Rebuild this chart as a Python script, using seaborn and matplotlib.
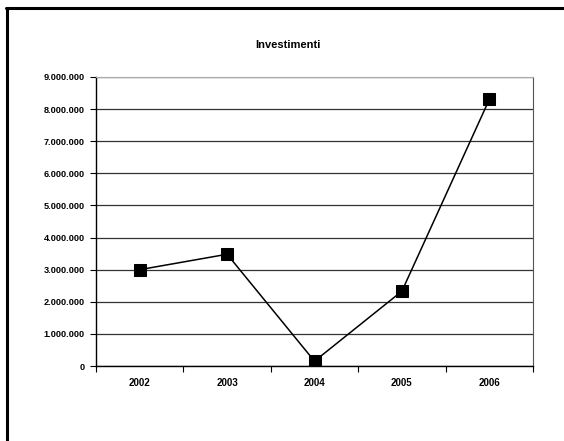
import pandas as pd
import matplotlib.pyplot as plt
import seaborn as sns
from matplotlib.ticker import FuncFormatter, MultipleLocator, FixedLocator
from matplotlib.lines import Line2D

anni = ['2002', '2003', '2004', '2005', '2006']
investimenti = [3000000, 3480000, 150000, 2330000, 8300000]

df = pd.DataFrame({'anno': anni, 'valore': investimenti})

sns.set_style('white', {'text.color': 'black', 'xtick.color': 'black',
                        'ytick.color': 'black'})
plt.rcParams['font.family'] = ['Liberation Sans', 'DejaVu Sans']

fig = plt.figure(figsize=(5.64, 4.41), dpi=100)
ax = fig.add_axes([96 / 564, 75 / 441, 437 / 564, 289 / 441])

# outer frame (top and left edge of the scanned page)
fig.add_artist(Line2D([6 / 564, 1], [433 / 441, 433 / 441], color='black', lw=2.2))
fig.add_artist(Line2D([7 / 564, 7 / 564], [0, 433 / 441], color='black', lw=2.2))

sns.lineplot(data=df, x='anno', y='valore', sort=False, color='black', lw=1.1,
             marker='s', markersize=8, markerfacecolor='black',
             markeredgecolor='black', ax=ax)

ax.set_xlim(-0.5, 4.5)
ax.set_ylim(0, 9000000)
ax.yaxis.set_major_locator(MultipleLocator(1000000))
ax.yaxis.set_major_formatter(FuncFormatter(lambda v, p: f'{int(v):,}'.replace(',', '.')))
ax.grid(axis='y', color='#333333', lw=0.9)
ax.set_axisbelow(True)

ax.xaxis.set_minor_locator(FixedLocator([i - 0.5 for i in range(len(anni) + 1)]))
ax.tick_params(axis='x', which='major', length=0, pad=9, labelcolor='black')
ax.tick_params(axis='x', which='minor', length=4, width=0.8, color='black', direction='out')
ax.tick_params(axis='y', length=4, width=0.8, color='black', direction='out', pad=4,
               labelcolor='black')
ax.tick_params(axis='x', which='minor', bottom=True)
ax.tick_params(axis='y', left=True)

for lab in ax.get_xticklabels():
    lab.set_fontsize(7)
    lab.set_fontweight('bold')
for lab in ax.get_yticklabels():
    lab.set_fontsize(6.6)
    lab.set_fontweight('bold')

for side in ['left', 'bottom']:
    ax.spines[side].set_color('black')
    ax.spines[side].set_linewidth(1)
ax.spines['top'].set_color('#aaaaaa')
ax.spines['right'].set_color('#555555')

ax.set_xlabel('')
ax.set_ylabel('')
fig.text(288 / 564, 396 / 441, 'Investimenti', ha='center', va='center',
         fontsize=8, fontweight='bold', color='black')

plt.savefig('out.png', dpi=100)
